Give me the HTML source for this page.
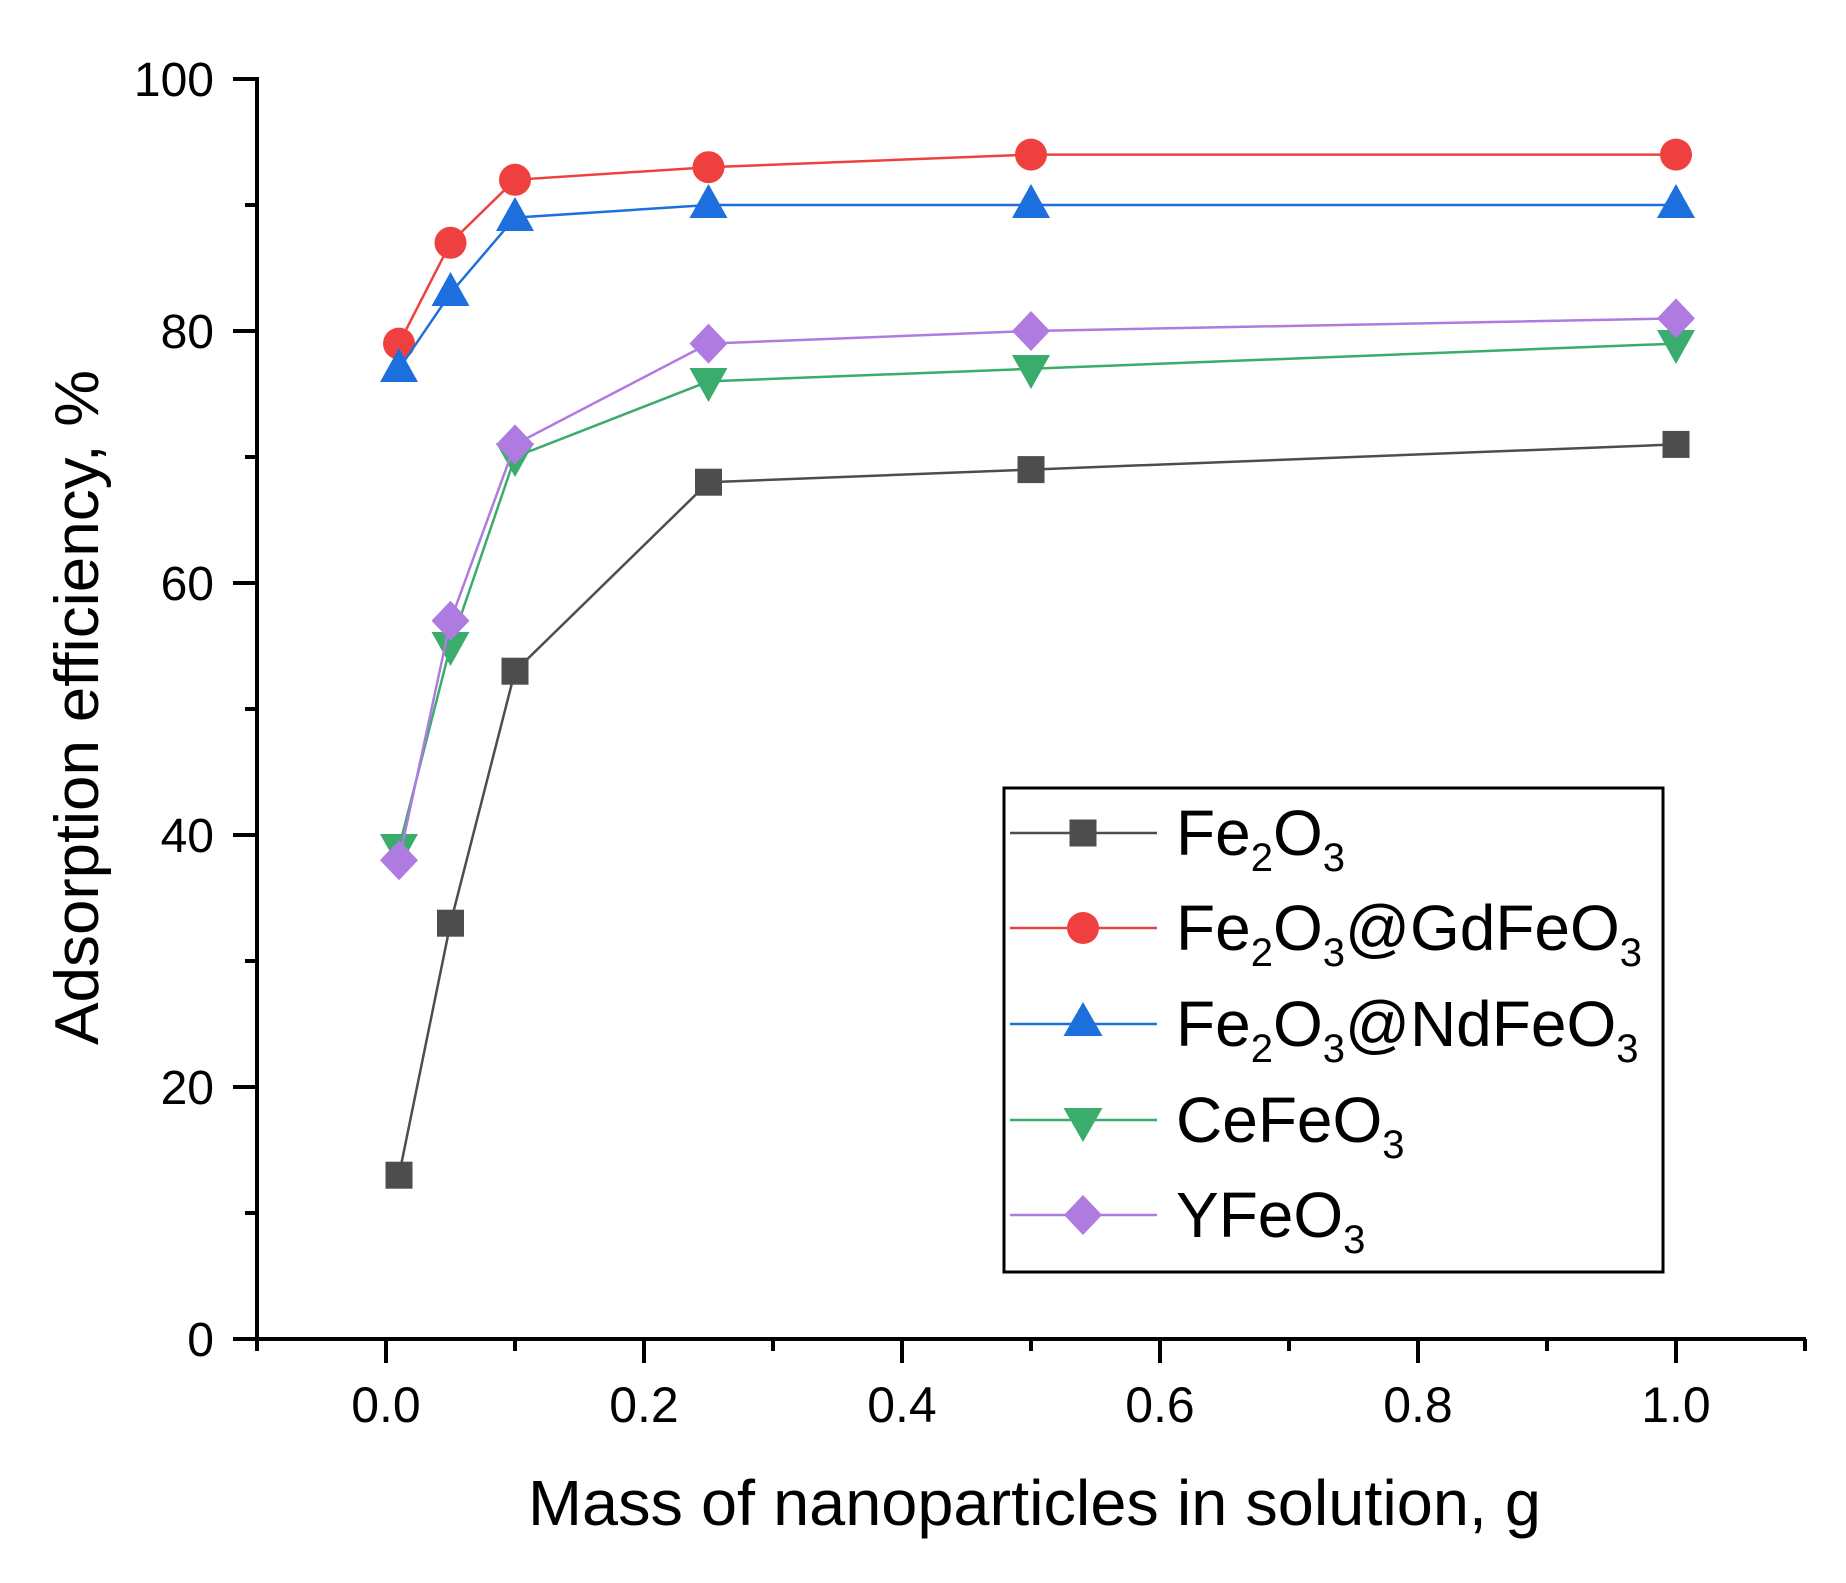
<!DOCTYPE html>
<html><head><meta charset="utf-8"><style>html,body{margin:0;padding:0;background:#fff}svg{display:block}</style></head>
<body>
<svg width="1846" height="1583" viewBox="0 0 1846 1583" xmlns="http://www.w3.org/2000/svg" font-family="Liberation Sans, Arial, sans-serif">
<rect width="1846" height="1583" fill="#fff"/>
<!-- axes -->
<g stroke="#000" stroke-width="4" fill="none">
<path d="M257 77 V1340 M255 1339 H1806"/>
<!-- y ticks -->
<path d="M233 79H257 M233 331H257 M233 583H257 M233 835H257 M233 1087H257 M233 1339H257"/>
<path d="M245 205H257 M245 457H257 M245 709H257 M245 961H257 M245 1213H257"/>
<!-- x ticks -->
<path d="M386 1339V1363 M644 1339V1363 M902 1339V1363 M1160 1339V1363 M1418 1339V1363 M1676 1339V1363"/>
<path d="M257 1339V1351 M515 1339V1351 M773 1339V1351 M1031 1339V1351 M1289 1339V1351 M1547 1339V1351 M1805 1339V1351"/>
</g>
<g font-size="48" text-anchor="end" fill="#000">
<text x="214" y="96">100</text><text x="214" y="348">80</text><text x="214" y="600">60</text>
<text x="214" y="852">40</text><text x="214" y="1104">20</text><text x="214" y="1356">0</text>
</g>
<g font-size="50" text-anchor="middle" fill="#000">
<text x="386" y="1422">0.0</text><text x="644" y="1422">0.2</text><text x="902" y="1422">0.4</text>
<text x="1160" y="1422">0.6</text><text x="1418" y="1422">0.8</text><text x="1676" y="1422">1.0</text>
</g>
<text x="528" y="1525" font-size="64" textLength="1013" lengthAdjust="spacingAndGlyphs">Mass of nanoparticles in solution, g</text>
<text transform="translate(98,1045) rotate(-90)" font-size="62" textLength="675" lengthAdjust="spacingAndGlyphs">Adsorption efficiency, %</text>

<!-- series: x=386+1290m, y=1339-12.6v; m: .01->399, .05->450.5, .1->515, .25->708.5, .5->1031, 1->1676 -->
<!-- Fe2O3 -->
<polyline fill="none" stroke="#4d4d4d" stroke-width="2.5" points="399,1175.2 450.5,923.2 515,671.2 708.5,482.2 1031,469.6 1676,444.4"/>
<g fill="#4d4d4d">
<rect x="385.5" y="1161.7" width="27" height="27"/><rect x="437" y="909.7" width="27" height="27"/><rect x="501.5" y="657.7" width="27" height="27"/>
<rect x="695" y="468.7" width="27" height="27"/><rect x="1017.5" y="456.1" width="27" height="27"/><rect x="1662.5" y="430.9" width="27" height="27"/>
</g>
<!-- Gd -->
<polyline fill="none" stroke="#ef4040" stroke-width="2.5" points="399,343.6 450.5,242.8 515,179.8 708.5,167.2 1031,154.6 1676,154.6"/>
<g fill="#ef4040">
<circle cx="399" cy="343.6" r="16"/><circle cx="450.5" cy="242.8" r="16"/><circle cx="515" cy="179.8" r="16"/>
<circle cx="708.5" cy="167.2" r="16"/><circle cx="1031" cy="154.6" r="16"/><circle cx="1676" cy="154.6" r="16"/>
</g>
<!-- Nd -->
<polyline fill="none" stroke="#1c6fdc" stroke-width="2.5" points="399,368.8 450.5,293.2 515,217.6 708.5,205 1031,205 1676,205"/>
<g fill="#1c6fdc">
<polygon points="399,348 380,382 418,382"/><polygon points="450.5,272 431.5,306 469.5,306"/><polygon points="515,197 496,231 534,231"/>
<polygon points="708.5,184 689.5,218 727.5,218"/><polygon points="1031,184 1012,218 1050,218"/><polygon points="1676,184 1657,218 1695,218"/>
</g>
<!-- Ce -->
<polyline fill="none" stroke="#3aac6b" stroke-width="2.5" points="399,847.6 450.5,646 515,457 708.5,381.4 1031,368.8 1676,343.6"/>
<g fill="#3aac6b">
<polygon points="380,834 418,834 399,868"/><polygon points="431.5,632 469.5,632 450.5,666"/><polygon points="496,443 534,443 515,477"/>
<polygon points="689.5,368 727.5,368 708.5,402"/><polygon points="1012,355 1050,355 1031,389"/><polygon points="1657,330 1695,330 1676,364"/>
</g>
<!-- Y -->
<polyline fill="none" stroke="#b07be0" stroke-width="2.5" points="399,860.2 450.5,620.8 515,444.4 708.5,343.6 1031,331 1676,318.4"/>
<g fill="#b07be0">
<polygon points="399,840.2 418,860.2 399,880.2 380,860.2"/><polygon points="450.5,600.8 469.5,620.8 450.5,640.8 431.5,620.8"/>
<polygon points="515,424.4 534,444.4 515,464.4 496,444.4"/><polygon points="708.5,323.6 727.5,343.6 708.5,363.6 689.5,343.6"/>
<polygon points="1031,311 1050,331 1031,351 1012,331"/><polygon points="1676,298.4 1695,318.4 1676,338.4 1657,318.4"/>
</g>

<!-- legend -->
<rect x="1004" y="788" width="659" height="484" fill="#fff" stroke="#000" stroke-width="3"/>
<g stroke-width="2.5">
<line x1="1010" y1="833" x2="1157" y2="833" stroke="#4d4d4d"/>
<line x1="1010" y1="928" x2="1157" y2="928" stroke="#ef4040"/>
<line x1="1010" y1="1024" x2="1157" y2="1024" stroke="#1c6fdc"/>
<line x1="1010" y1="1120" x2="1157" y2="1120" stroke="#3aac6b"/>
<line x1="1010" y1="1215" x2="1157" y2="1215" stroke="#b07be0"/>
</g>
<rect x="1069.5" y="819.5" width="27" height="27" fill="#4d4d4d"/>
<circle cx="1083" cy="928" r="16" fill="#ef4040"/>
<polygon points="1083,1002 1063.5,1036 1102.5,1036" fill="#1c6fdc"/>
<polygon points="1063.5,1108 1102.5,1108 1083,1142" fill="#3aac6b"/>
<polygon points="1083,1195 1102,1215 1083,1235 1064,1215" fill="#b07be0"/>
<g font-size="64" fill="#000">
<text x="1176" y="855">Fe<tspan font-size="40" dy="16">2</tspan><tspan dy="-16">O</tspan><tspan font-size="40" dy="16">3</tspan></text>
<text x="1176" y="950">Fe<tspan font-size="40" dy="16">2</tspan><tspan dy="-16">O</tspan><tspan font-size="40" dy="16">3</tspan><tspan dy="-16">@GdFeO</tspan><tspan font-size="40" dy="16">3</tspan></text>
<text x="1176" y="1046">Fe<tspan font-size="40" dy="16">2</tspan><tspan dy="-16">O</tspan><tspan font-size="40" dy="16">3</tspan><tspan dy="-16">@NdFeO</tspan><tspan font-size="40" dy="16">3</tspan></text>
<text x="1176" y="1142">CeFeO<tspan font-size="40" dy="16">3</tspan></text>
<text x="1176" y="1237">YFeO<tspan font-size="40" dy="16">3</tspan></text>
</g>
</svg>
</body></html>
